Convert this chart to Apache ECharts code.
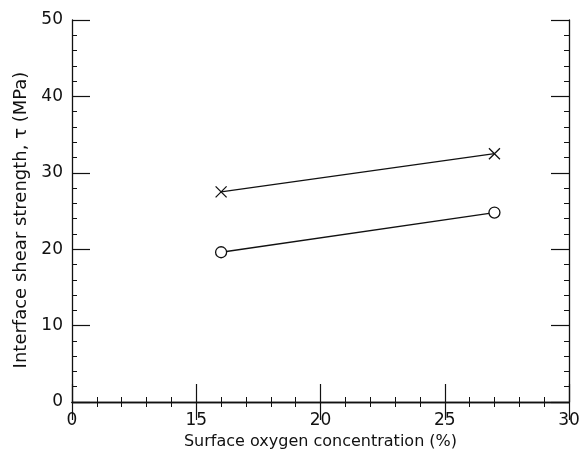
<!DOCTYPE html>
<html><head><meta charset="utf-8">
<script src="https://cdn.jsdelivr.net/npm/echarts@6/dist/echarts.min.js"></script>
<style>html,body{margin:0;padding:0;background:#fff}#c{width:586px;height:451px}</style>
</head><body><div id="c"></div>
<script>
const oxygen = [16, 27];
const crossValues = [27.5, 32.5];
const circleValues = [19.6, 24.8];
const xTickLabels = {10: '0', 15: '15', 20: '20', 25: '25', 30: '30'};
const xTitle = 'Surface oxygen concentration (%)';
const yTitle = 'Interface shear strength, τ (MPa)';

const font = 'DejaVu Sans';
const ink = '#111';
function axisCommon(showLabel) {
  return {
    axisLine: {show: true, lineStyle: {color: ink, width: 1.3}},
    axisTick: {show: true, inside: true, length: 18, lineStyle: {color: ink, width: 1.2}},
    minorTick: {show: true, splitNumber: 5, length: 5, lineStyle: {color: ink, width: 1}},
    splitLine: {show: false},
    axisLabel: {show: showLabel, color: ink, fontFamily: font, fontSize: 17, margin: 9}
  };
}
const chart = echarts.init(document.getElementById('c'));
chart.setOption({
  animation: false,
  grid: {left: 72, top: 20, right: 17, bottom: 49, containLabel: false, outerBoundsMode: 'none'},
  xAxis: [
    Object.assign(axisCommon(true), {type: 'value', min: 10, max: 30, interval: 5, position: 'bottom',
      name: xTitle, nameLocation: 'middle', nameGap: 30,
      nameTextStyle: {fontFamily: font, fontSize: 16, color: ink},
      axisLabel: {show: true, color: ink, fontFamily: font, fontSize: 17, margin: 10,
        formatter: v => xTickLabels[v] ?? ''}}),
    Object.assign(axisCommon(false), {type: 'value', min: 10, max: 30, interval: 5, position: 'top'})
  ],
  yAxis: [
    Object.assign(axisCommon(true), {type: 'value', min: 0, max: 50, interval: 10, position: 'left',
      name: yTitle, nameLocation: 'middle', nameGap: 39,
      nameTextStyle: {fontFamily: font, fontSize: 18, color: ink, padding: [0, 18, 0, 0]}}),
    Object.assign(axisCommon(false), {type: 'value', min: 0, max: 50, interval: 10, position: 'right'})
  ],
  series: [
    {type: 'line', data: oxygen.map((x, i) => [x, crossValues[i]]),
      symbol: 'path://M0,0L10,10M10,0L0,10', symbolSize: 11,
      itemStyle: {color: 'none', borderColor: ink, borderWidth: 1.3},
      lineStyle: {color: ink, width: 1.3}},
    {type: 'line', data: oxygen.map((x, i) => [x, circleValues[i]]),
      symbol: 'circle', symbolSize: 11,
      itemStyle: {color: '#fff', borderColor: ink, borderWidth: 1.3},
      lineStyle: {color: ink, width: 1.3}}
  ]
});
</script></body></html>
